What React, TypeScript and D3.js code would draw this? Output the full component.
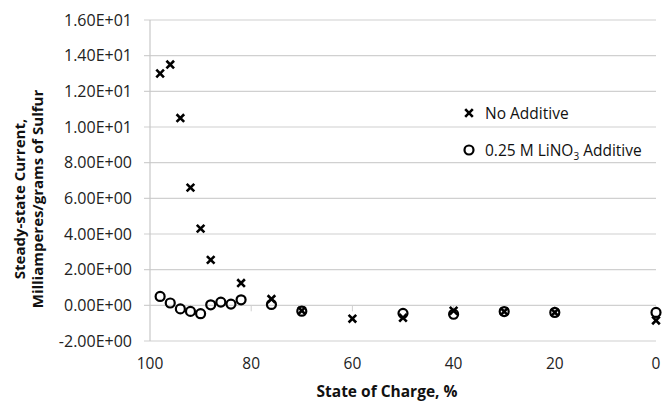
import React, { useRef, useEffect } from 'react';
import * as d3 from 'd3';

// State of charge (%) and steady-state current (mA/g S)
const socNoAdditive = [98, 96, 94, 92, 90, 88, 82, 76, 70, 60, 50, 40, 30, 20, 0];
const currentNoAdditive = [13.0, 13.5, 10.5, 6.6, 4.3, 2.55, 1.25, 0.35, -0.3, -0.75, -0.7, -0.3, -0.35, -0.4, -0.85];

const socLiNO3 = [98, 96, 94, 92, 90, 88, 86, 84, 82, 76, 70, 50, 40, 30, 20, 0];
const currentLiNO3 = [0.5, 0.13, -0.2, -0.34, -0.47, 0.03, 0.18, 0.07, 0.31, 0.05, -0.33, -0.45, -0.5, -0.35, -0.4, -0.4];

const yTicks = [-2, 0, 2, 4, 6, 8, 10, 12, 14, 16];
const xTicks = [100, 80, 60, 40, 20, 0];

const FONT = "'Open Sans', sans-serif";

// Excel style scientific label, e.g. 1.60E+01
const sci = (d: number) =>
  d3
    .format('.2e')(d)
    .replace('\u2212', '-')
    .toUpperCase()
    .replace(/E([+-])(\d)$/, 'E$10$2');

const App = () => {
  const svgRef = useRef<SVGSVGElement>(null);

  useEffect(() => {
    const root = d3.select(svgRef.current);
    root.selectAll('*').remove();

    const width = 663;
    const height = 402;
    const left = 150;
    const right = 656;
    const top = 20;
    const bottom = 341;

    const svg = root.attr('width', width).attr('height', height);

    const x = d3.scaleLinear().domain([100, 0]).range([left, right]);
    const y = d3.scaleLinear().domain([-2, 16]).range([bottom, top]);

    // Gridlines
    svg
      .selectAll('.grid')
      .data(yTicks)
      .enter()
      .append('line')
      .attr('x1', left - 6)
      .attr('x2', right)
      .attr('y1', (d) => y(d))
      .attr('y2', (d) => y(d))
      .attr('stroke', '#d0d0d0')
      .attr('stroke-width', 1.2);

    // Vertical axis line
    svg
      .append('line')
      .attr('x1', left)
      .attr('x2', left)
      .attr('y1', top)
      .attr('y2', bottom)
      .attr('stroke', '#c8c8c8')
      .attr('stroke-width', 1.2);

    // x ticks on the zero line
    svg
      .selectAll('.xtick')
      .data(xTicks.filter((d) => d !== 100 && d !== 0))
      .enter()
      .append('line')
      .attr('x1', (d) => x(d))
      .attr('x2', (d) => x(d))
      .attr('y1', y(0))
      .attr('y2', y(0) + 6)
      .attr('stroke', '#d0d0d0')
      .attr('stroke-width', 1);

    // y tick labels
    svg
      .selectAll('.ylab')
      .data(yTicks)
      .enter()
      .append('text')
      .attr('x', 132)
      .attr('y', (d) => y(d) + 5.5)
      .attr('text-anchor', 'end')
      .style('font-family', FONT)
      .style('font-size', '16px')
      .attr('fill', '#222')
      .text((d) => sci(d));

    // x tick labels
    svg
      .selectAll('.xlab')
      .data(xTicks)
      .enter()
      .append('text')
      .attr('x', (d) => x(d))
      .attr('y', 369)
      .attr('text-anchor', 'middle')
      .style('font-family', FONT)
      .style('font-size', '15.5px')
      .attr('fill', '#222')
      .text((d) => d);

    // Axis titles
    svg
      .append('text')
      .attr('x', 387)
      .attr('y', 397)
      .attr('text-anchor', 'middle')
      .style('font-family', FONT)
      .style('font-size', '15.5px')
      .style('font-weight', 'bold')
      .attr('fill', '#111')
      .text('State of Charge, %');

    const yTitle = svg
      .append('text')
      .attr('transform', 'translate(0,199) rotate(-90)')
      .attr('text-anchor', 'middle')
      .style('font-family', FONT)
      .style('font-size', '15px')
      .style('font-weight', 'bold')
      .attr('fill', '#111');
    yTitle.append('tspan').attr('x', 0).attr('y', 25).text('Steady-state Current,');
    yTitle.append('tspan').attr('x', 0).attr('y', 43).text('Milliamperes/grams of Sulfur');

    const crossPath = (s: number) => `M${-s},${-s}L${s},${s}M${-s},${s}L${s},${-s}`;

    // Series: 0.25 M LiNO3 (circles)
    svg
      .selectAll('.circ')
      .data(socLiNO3.map((s, i) => [s, currentLiNO3[i]]))
      .enter()
      .append('circle')
      .attr('cx', (d) => x(d[0]))
      .attr('cy', (d) => y(d[1]))
      .attr('r', 4.5)
      .attr('fill', 'none')
      .attr('stroke', '#000')
      .attr('stroke-width', 2.2);

    // Series: No additive (crosses)
    svg
      .selectAll('.cross')
      .data(socNoAdditive.map((s, i) => [s, currentNoAdditive[i]]))
      .enter()
      .append('path')
      .attr('transform', (d) => `translate(${x(d[0])},${y(d[1])})`)
      .attr('d', crossPath(3.8))
      .attr('fill', 'none')
      .attr('stroke', '#000')
      .attr('stroke-width', 2.6);

    // Legend
    const lx = 469;
    svg
      .append('path')
      .attr('transform', `translate(${lx},113)`)
      .attr('d', crossPath(3.8))
      .attr('stroke', '#000')
      .attr('stroke-width', 2.6);
    svg
      .append('text')
      .attr('x', lx + 16)
      .attr('y', 118.5)
      .style('font-family', FONT)
      .style('font-size', '15.5px')
      .attr('fill', '#111')
      .text('No Additive');

    svg
      .append('circle')
      .attr('cx', lx)
      .attr('cy', 150)
      .attr('r', 4.5)
      .attr('fill', 'none')
      .attr('stroke', '#000')
      .attr('stroke-width', 2.2);
    const l2 = svg
      .append('text')
      .attr('x', lx + 16)
      .attr('y', 155.5)
      .style('font-family', FONT)
      .style('font-size', '15.5px')
      .attr('fill', '#111');
    l2.append('tspan').text('0.25 M LiNO');
    l2.append('tspan').attr('dy', 4).style('font-size', '10px').text('3');
    l2.append('tspan').attr('dy', -4).text(' Additive');
  }, []);

  return <svg ref={svgRef} style={{ position: 'absolute', left: 0, top: 0 }} />;
};

export default App;
